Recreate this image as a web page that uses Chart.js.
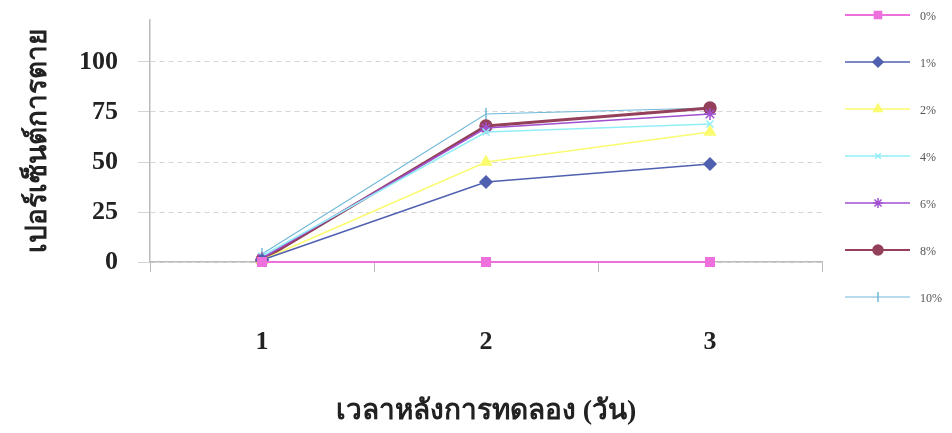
<!DOCTYPE html>
<html>
<head>
<meta charset="utf-8">
<script src="https://cdn.jsdelivr.net/npm/chart.js@4"></script>
<style>
  html, body { margin: 0; padding: 0; background: #fff; }
  #wrap { width: 952px; height: 433px; }
</style>
</head>
<body>
<div id="wrap"><canvas id="deathChart" width="952" height="433"></canvas></div>
<script>
// days after treatment
const days = ["1", "2", "3"];
const yTicks = [0, 25, 50, 75, 100];

// percent mortality per concentration
const conc0 = [0, 0, 0];
const conc1 = [1, 40, 49];
const conc2 = [1, 50, 65];
const conc4 = [3, 65, 69];
const conc6 = [2, 67, 74];
const conc8 = [1, 68, 77];
const conc10 = [4, 74, 77];

const seriesNames = ["0%", "1%", "2%", "4%", "6%", "8%", "10%"];

function makeSet(label, data, color, style, radius, width) {
    return {
        label: label,
        data: data,
        borderColor: color,
        backgroundColor: color,
        pointStyle: style,
        pointRadius: radius,
        pointBorderWidth: 1.5,
        borderWidth: width,
        tension: 0,
        clip: 10
    };
}

const datasets = [
    makeSet(seriesNames[0], conc0, '#ee70dc', 'rect', 6, 2),
    makeSet(seriesNames[1], conc1, '#5060b0', 'rectRot', 6, 1.5),
    makeSet(seriesNames[2], conc2, '#fbfb70', 'triangle', 6, 1.5),
    makeSet(seriesNames[3], conc4, '#92eef6', 'crossRot', 5, 1.5),
    makeSet(seriesNames[4], conc6, '#a050d0', 'star', 6, 1.5),
    makeSet(seriesNames[5], conc8, '#94405a', 'circle', 6, 3),
    makeSet(seriesNames[6], conc10, '#70b8d8', 'line', 6, 1.2)
];
datasets[6].pointRotation = 90;

// legend on the right: line sample with marker in the middle
const sideLegend = {
    id: 'sideLegend',
    afterDraw(chart) {
        const ctx = chart.ctx;
        ctx.save();
        chart.data.datasets.forEach((ds, i) => {
            const y = 15 + i * 47;
            ctx.strokeStyle = ds.borderColor;
            ctx.lineWidth = Math.min(ds.borderWidth, 2);
            ctx.beginPath();
            ctx.moveTo(845, y);
            ctx.lineTo(910, y);
            ctx.stroke();
            ctx.fillStyle = ds.backgroundColor;
            ctx.lineWidth = 1.5;
            Chart.helpers.drawPoint(ctx, {
                pointStyle: ds.pointStyle,
                radius: ds.pointRadius - 1,
                rotation: ds.pointRotation || 0,
                borderWidth: 1.5
            }, 878, y);
            ctx.fillStyle = '#555';
            ctx.font = '12px "Liberation Serif", serif';
            ctx.textBaseline = 'middle';
            ctx.fillText(ds.label, 920, y + 2);
        });
        ctx.restore();
    }
};

const ctx = document.getElementById('deathChart').getContext('2d');
const deathChart = new Chart(ctx, {
    type: 'line',
    data: {
        labels: days,
        datasets: datasets
    },
    plugins: [sideLegend],
    options: {
        responsive: false,
        animation: false,
        layout: { padding: { top: 20, right: 130, left: 0, bottom: 0 } },
        plugins: {
            legend: { display: false },
            tooltip: { enabled: false }
        },
        scales: {
            x: {
                offset: true,
                grid: {
                    offset: true,
                    drawOnChartArea: false,
                    color: '#bbb',
                    tickLength: 10
                },
                border: { color: '#bbb', width: 1.5 },
                ticks: {
                    padding: 55,
                    color: '#222',
                    font: { family: '"Liberation Serif", serif', size: 26, weight: 'bold' }
                },
                title: {
                    display: true,
                    text: 'เวลาหลังการทดลอง (วัน)',
                    color: '#222',
                    padding: { top: 0, bottom: 4 },
                    font: { family: '"Liberation Serif", serif', size: 28, weight: 'bold' }
                },
                afterFit(scale) { scale.height = 171; }
            },
            y: {
                min: 0,
                max: 121,
                afterBuildTicks(scale) {
                    scale.ticks = yTicks.map(v => ({ value: v }));
                },
                grid: {
                    color: '#d4d4d4',
                    tickLength: 12
                },
                border: { color: '#bbb', width: 1.5, dash: [5, 4] },
                ticks: {
                    padding: 20,
                    color: '#222',
                    font: { family: '"Liberation Serif", serif', size: 26, weight: 'bold' }
                },
                title: {
                    display: true,
                    text: 'เปอร์เซ็นต์การตาย',
                    color: '#222',
                    padding: { top: 22, bottom: 0 },
                    font: { family: '"Liberation Serif", serif', size: 28, weight: 'bold' }
                },
                afterFit(scale) {
                    scale.width = 150;
                    scale.paddingTop = 0;
                    scale.paddingBottom = 0;
                }
            }
        }
    }
});
</script>
</body>
</html>
